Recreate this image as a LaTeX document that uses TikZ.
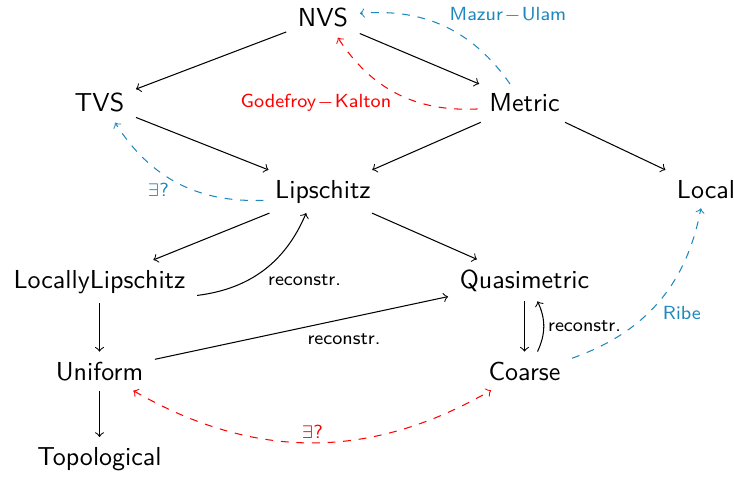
\documentclass[tikz,border=0pt]{standalone}
\definecolor{cblue}{RGB}{30,136,190}
\definecolor{cred}{RGB}{255,0,0}
\begin{document}
\begin{tikzpicture}[x=0.3846pt,y=0.3846pt,font=\sffamily,
  obj/.style={anchor=base, inner xsep=1ex, inner ysep=0.85ex},
  lbl/.style={font=\sffamily\fontsize{7.3}{9}\selectfont, inner sep=1.5pt},
  arr/.style={->},
  bdash/.style={->, dashed, cblue},
  rdash/.style={->, dashed, cred}]
\useasboundingbox (0,0) rectangle (734,477);
\node[obj] (nvs) at (323,450) {NVS};
\node[obj] (tvs) at (99.5,365) {TVS};
\node[obj] (met) at (524.5,365) {Metric};
\node[obj] (lip) at (323,279) {Lipschitz};
\node[obj] (loc) at (706,279) {Local};
\node[obj] (ll) at (99.5,189) {LocallyLipschitz};
\node[obj] (qm) at (524.5,189) {Quasimetric};
\node[obj] (uni) at (99.5,97) {Uniform};
\node[obj] (co) at (524.5,97) {Coarse};
\node[obj] (topo) at (99.5,12) {Topological};

\draw[arr] (nvs) -- (tvs);
\draw[arr] (nvs) -- (met);
\draw[arr] (tvs) -- (lip);
\draw[arr] (met) -- (lip);
\draw[arr] (met) -- (loc);
\draw[arr] (lip) -- (ll);
\draw[arr] (lip) -- (qm);
\draw[arr] (ll) to[bend right=30] node[lbl, pos=0.5, anchor=north west] {reconstr.} (lip);
\draw[arr] (ll) -- (uni);
\draw[arr] (uni) -- node[lbl, pos=0.645, anchor=north, yshift=-4pt] {reconstr.} (qm);
\draw[arr] (uni) -- (topo);
\draw[arr] (qm) -- (co);
\draw[arr] ([xshift=5pt]co.north) to[out=65,in=-65] node[lbl, anchor=west] {reconstr.} ([xshift=5pt]qm.south);

\draw[bdash] (co) to[bend right=30] node[lbl, pos=0.5, anchor=north west] {Ribe} (loc);
\draw[bdash] (met) to[bend right=30] node[lbl, pos=0.5, anchor=south west] {Mazur\kern0.5pt$-$\kern0.5pt Ulam} (nvs);
\draw[rdash] (met) to[bend left=30] node[lbl, pos=0.55, anchor=north east, xshift=2pt] {Godefroy\kern0.5pt$-$\kern0.5pt Kalton} (nvs);
\draw[bdash] (lip) to[bend left=30] node[lbl, pos=0.55, anchor=north east, xshift=1pt] {$\exists$?} (tvs);
\draw[rdash, <->] (uni) to[bend right=30] node[lbl, pos=0.5, anchor=south] {$\exists$?} (co);
\end{tikzpicture}
\end{document}
